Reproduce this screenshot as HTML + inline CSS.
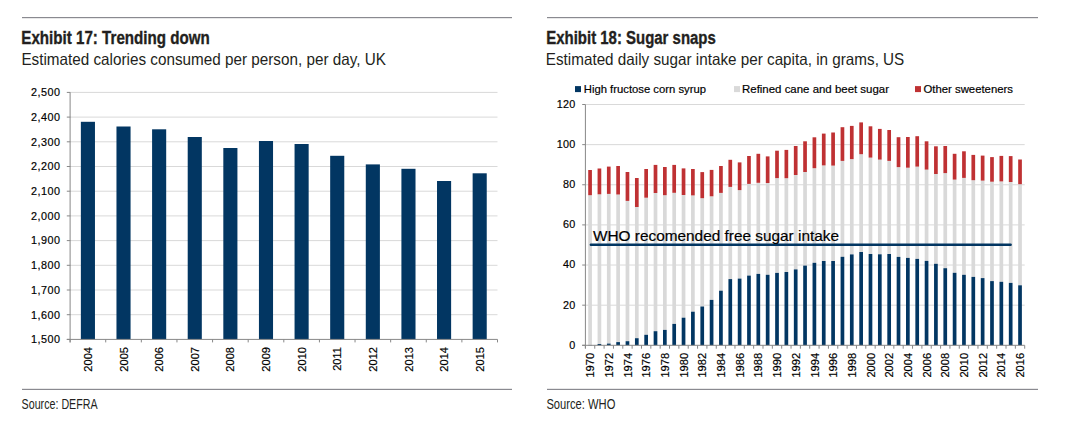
<!DOCTYPE html>
<html><head><meta charset="utf-8"><style>
html,body{margin:0;padding:0;background:#fff;width:1067px;height:427px;overflow:hidden}
svg{display:block;font-family:"Liberation Sans", sans-serif}
text.s{stroke:#000;stroke-width:0.18px}
</style></head><body>
<svg width="1067" height="427" viewBox="0 0 1067 427">
<rect x="22" y="17.0" width="490" height="1.2" fill="#8a8a90"/>
<rect x="22" y="388.8" width="490" height="1.2" fill="#8a8a90"/>
<rect x="547" y="17.0" width="491" height="1.2" fill="#8a8a90"/>
<rect x="547" y="388.8" width="491" height="1.2" fill="#8a8a90"/>
<text x="21.3" y="43.7" font-weight="bold" font-size="17.5" textLength="188.5" lengthAdjust="spacingAndGlyphs" fill="#231f20" stroke="#231f20" stroke-width="0.35">Exhibit 17: Trending down</text>
<text x="546.3" y="43.7" font-weight="bold" font-size="17.5" textLength="169.5" lengthAdjust="spacingAndGlyphs" fill="#231f20" stroke="#231f20" stroke-width="0.35">Exhibit 18: Sugar snaps</text>
<text x="21.4" y="65" font-size="16.5" textLength="364.5" lengthAdjust="spacingAndGlyphs" fill="#231f20">Estimated calories consumed per person, per day, UK</text>
<text x="545.8" y="65" font-size="16.5" textLength="358.5" lengthAdjust="spacingAndGlyphs" fill="#231f20">Estimated daily sugar intake per capita, in grams, US</text>
<text x="21.6" y="408.7" font-size="14" textLength="76" lengthAdjust="spacingAndGlyphs" fill="#231f20">Source: DEFRA</text>
<text x="546.4" y="408.7" font-size="14" textLength="69" lengthAdjust="spacingAndGlyphs" fill="#231f20">Source: WHO</text>
<rect x="70.1" y="91.90" width="427.40" height="1" fill="#d9d9d9"/>
<rect x="66.8" y="91.90" width="3.5" height="1" fill="#888888"/>
<text x="60" y="96.20" class="s" font-size="10.8" text-anchor="end" textLength="28.93" lengthAdjust="spacing" fill="#000">2,500</text>
<rect x="70.1" y="116.60" width="427.40" height="1" fill="#d9d9d9"/>
<rect x="66.8" y="116.60" width="3.5" height="1" fill="#888888"/>
<text x="60" y="120.90" class="s" font-size="10.8" text-anchor="end" textLength="28.93" lengthAdjust="spacing" fill="#000">2,400</text>
<rect x="70.1" y="141.30" width="427.40" height="1" fill="#d9d9d9"/>
<rect x="66.8" y="141.30" width="3.5" height="1" fill="#888888"/>
<text x="60" y="145.60" class="s" font-size="10.8" text-anchor="end" textLength="28.93" lengthAdjust="spacing" fill="#000">2,300</text>
<rect x="70.1" y="166.00" width="427.40" height="1" fill="#d9d9d9"/>
<rect x="66.8" y="166.00" width="3.5" height="1" fill="#888888"/>
<text x="60" y="170.30" class="s" font-size="10.8" text-anchor="end" textLength="28.93" lengthAdjust="spacing" fill="#000">2,200</text>
<rect x="70.1" y="190.70" width="427.40" height="1" fill="#d9d9d9"/>
<rect x="66.8" y="190.70" width="3.5" height="1" fill="#888888"/>
<text x="60" y="195.00" class="s" font-size="10.8" text-anchor="end" textLength="28.93" lengthAdjust="spacing" fill="#000">2,100</text>
<rect x="70.1" y="215.40" width="427.40" height="1" fill="#d9d9d9"/>
<rect x="66.8" y="215.40" width="3.5" height="1" fill="#888888"/>
<text x="60" y="219.70" class="s" font-size="10.8" text-anchor="end" textLength="28.93" lengthAdjust="spacing" fill="#000">2,000</text>
<rect x="70.1" y="240.10" width="427.40" height="1" fill="#d9d9d9"/>
<rect x="66.8" y="240.10" width="3.5" height="1" fill="#888888"/>
<text x="60" y="244.40" class="s" font-size="10.8" text-anchor="end" textLength="28.93" lengthAdjust="spacing" fill="#000">1,900</text>
<rect x="70.1" y="264.80" width="427.40" height="1" fill="#d9d9d9"/>
<rect x="66.8" y="264.80" width="3.5" height="1" fill="#888888"/>
<text x="60" y="269.10" class="s" font-size="10.8" text-anchor="end" textLength="28.93" lengthAdjust="spacing" fill="#000">1,800</text>
<rect x="70.1" y="289.50" width="427.40" height="1" fill="#d9d9d9"/>
<rect x="66.8" y="289.50" width="3.5" height="1" fill="#888888"/>
<text x="60" y="293.80" class="s" font-size="10.8" text-anchor="end" textLength="28.93" lengthAdjust="spacing" fill="#000">1,700</text>
<rect x="70.1" y="314.20" width="427.40" height="1" fill="#d9d9d9"/>
<rect x="66.8" y="314.20" width="3.5" height="1" fill="#888888"/>
<text x="60" y="318.50" class="s" font-size="10.8" text-anchor="end" textLength="28.93" lengthAdjust="spacing" fill="#000">1,600</text>
<rect x="66.8" y="338.90" width="3.5" height="1" fill="#888888"/>
<text x="60" y="343.20" class="s" font-size="10.8" text-anchor="end" textLength="28.93" lengthAdjust="spacing" fill="#000">1,500</text>
<rect x="80.86" y="121.8" width="14.1" height="217.60" fill="#023662"/>
<rect x="116.47" y="126.5" width="14.1" height="212.90" fill="#023662"/>
<rect x="152.09" y="129.3" width="14.1" height="210.10" fill="#023662"/>
<rect x="187.71" y="137" width="14.1" height="202.40" fill="#023662"/>
<rect x="223.32" y="148" width="14.1" height="191.40" fill="#023662"/>
<rect x="258.94" y="141" width="14.1" height="198.40" fill="#023662"/>
<rect x="294.56" y="144" width="14.1" height="195.40" fill="#023662"/>
<rect x="330.17" y="155.8" width="14.1" height="183.60" fill="#023662"/>
<rect x="365.79" y="164.4" width="14.1" height="175.00" fill="#023662"/>
<rect x="401.41" y="168.8" width="14.1" height="170.60" fill="#023662"/>
<rect x="437.02" y="181" width="14.1" height="158.40" fill="#023662"/>
<rect x="472.64" y="173.3" width="14.1" height="166.10" fill="#023662"/>
<rect x="69.6" y="92.4" width="1" height="250.00" fill="#888888"/>
<rect x="66.8" y="338.90" width="430.70" height="1" fill="#888888"/>
<rect x="69.60" y="339.4" width="1" height="3" fill="#888888"/>
<rect x="105.22" y="339.4" width="1" height="3" fill="#888888"/>
<rect x="140.83" y="339.4" width="1" height="3" fill="#888888"/>
<rect x="176.45" y="339.4" width="1" height="3" fill="#888888"/>
<rect x="212.07" y="339.4" width="1" height="3" fill="#888888"/>
<rect x="247.68" y="339.4" width="1" height="3" fill="#888888"/>
<rect x="283.30" y="339.4" width="1" height="3" fill="#888888"/>
<rect x="318.92" y="339.4" width="1" height="3" fill="#888888"/>
<rect x="354.53" y="339.4" width="1" height="3" fill="#888888"/>
<rect x="390.15" y="339.4" width="1" height="3" fill="#888888"/>
<rect x="425.77" y="339.4" width="1" height="3" fill="#888888"/>
<rect x="461.38" y="339.4" width="1" height="3" fill="#888888"/>
<rect x="497.00" y="339.4" width="1" height="3" fill="#888888"/>
<text transform="translate(92.01,347.0) rotate(-90)" class="s" font-size="11.1" text-anchor="end" fill="#000">2004</text>
<text transform="translate(127.62,347.0) rotate(-90)" class="s" font-size="11.1" text-anchor="end" fill="#000">2005</text>
<text transform="translate(163.24,347.0) rotate(-90)" class="s" font-size="11.1" text-anchor="end" fill="#000">2006</text>
<text transform="translate(198.86,347.0) rotate(-90)" class="s" font-size="11.1" text-anchor="end" fill="#000">2007</text>
<text transform="translate(234.47,347.0) rotate(-90)" class="s" font-size="11.1" text-anchor="end" fill="#000">2008</text>
<text transform="translate(270.09,347.0) rotate(-90)" class="s" font-size="11.1" text-anchor="end" fill="#000">2009</text>
<text transform="translate(305.71,347.0) rotate(-90)" class="s" font-size="11.1" text-anchor="end" fill="#000">2010</text>
<text transform="translate(341.33,347.0) rotate(-90)" class="s" font-size="11.1" text-anchor="end" fill="#000">2011</text>
<text transform="translate(376.94,347.0) rotate(-90)" class="s" font-size="11.1" text-anchor="end" fill="#000">2012</text>
<text transform="translate(412.56,347.0) rotate(-90)" class="s" font-size="11.1" text-anchor="end" fill="#000">2013</text>
<text transform="translate(448.18,347.0) rotate(-90)" class="s" font-size="11.1" text-anchor="end" fill="#000">2014</text>
<text transform="translate(483.79,347.0) rotate(-90)" class="s" font-size="11.1" text-anchor="end" fill="#000">2015</text>
<rect x="582.2" y="344.80" width="3.2" height="1" fill="#888888"/>
<text x="575.3" y="348.70" class="s" font-size="10.8" text-anchor="end" textLength="6.01" lengthAdjust="spacing" fill="#000">0</text>
<rect x="585.4" y="304.67" width="439.30" height="1" fill="#d9d9d9"/>
<rect x="582.2" y="304.67" width="3.2" height="1" fill="#888888"/>
<text x="575.3" y="308.57" class="s" font-size="10.8" text-anchor="end" textLength="12.31" lengthAdjust="spacing" fill="#000">20</text>
<rect x="585.4" y="264.53" width="439.30" height="1" fill="#d9d9d9"/>
<rect x="582.2" y="264.53" width="3.2" height="1" fill="#888888"/>
<text x="575.3" y="268.43" class="s" font-size="10.8" text-anchor="end" textLength="12.31" lengthAdjust="spacing" fill="#000">40</text>
<rect x="585.4" y="224.40" width="439.30" height="1" fill="#d9d9d9"/>
<rect x="582.2" y="224.40" width="3.2" height="1" fill="#888888"/>
<text x="575.3" y="228.30" class="s" font-size="10.8" text-anchor="end" textLength="12.31" lengthAdjust="spacing" fill="#000">60</text>
<rect x="585.4" y="184.26" width="439.30" height="1" fill="#d9d9d9"/>
<rect x="582.2" y="184.26" width="3.2" height="1" fill="#888888"/>
<text x="575.3" y="188.16" class="s" font-size="10.8" text-anchor="end" textLength="12.31" lengthAdjust="spacing" fill="#000">80</text>
<rect x="585.4" y="144.13" width="439.30" height="1" fill="#d9d9d9"/>
<rect x="582.2" y="144.13" width="3.2" height="1" fill="#888888"/>
<text x="575.3" y="148.03" class="s" font-size="10.8" text-anchor="end" textLength="18.62" lengthAdjust="spacing" fill="#000">100</text>
<rect x="585.4" y="104.00" width="439.30" height="1" fill="#d9d9d9"/>
<rect x="582.2" y="104.00" width="3.2" height="1" fill="#888888"/>
<text x="575.3" y="107.90" class="s" font-size="10.8" text-anchor="end" textLength="18.62" lengthAdjust="spacing" fill="#000">120</text>
<rect x="588.22" y="195.2" width="3.7" height="149.80" fill="#d9d9d9"/>
<rect x="588.22" y="170" width="3.7" height="25.20" fill="#bf3133"/>
<rect x="588.22" y="345" width="3.7" height="0.30" fill="#023662"/>
<rect x="597.57" y="194.3" width="3.7" height="149.70" fill="#d9d9d9"/>
<rect x="597.57" y="168.5" width="3.7" height="25.80" fill="#bf3133"/>
<rect x="597.57" y="344" width="3.7" height="1.30" fill="#023662"/>
<rect x="606.92" y="193.9" width="3.7" height="149.70" fill="#d9d9d9"/>
<rect x="606.92" y="166.6" width="3.7" height="27.30" fill="#bf3133"/>
<rect x="606.92" y="343.6" width="3.7" height="1.70" fill="#023662"/>
<rect x="616.26" y="194.5" width="3.7" height="147.60" fill="#d9d9d9"/>
<rect x="616.26" y="166" width="3.7" height="28.50" fill="#bf3133"/>
<rect x="616.26" y="342.1" width="3.7" height="3.20" fill="#023662"/>
<rect x="625.61" y="200.9" width="3.7" height="140.30" fill="#d9d9d9"/>
<rect x="625.61" y="172" width="3.7" height="28.90" fill="#bf3133"/>
<rect x="625.61" y="341.2" width="3.7" height="4.10" fill="#023662"/>
<rect x="634.96" y="207" width="3.7" height="131.20" fill="#d9d9d9"/>
<rect x="634.96" y="178" width="3.7" height="29.00" fill="#bf3133"/>
<rect x="634.96" y="338.2" width="3.7" height="7.10" fill="#023662"/>
<rect x="644.30" y="197.7" width="3.7" height="137.10" fill="#d9d9d9"/>
<rect x="644.30" y="169" width="3.7" height="28.70" fill="#bf3133"/>
<rect x="644.30" y="334.8" width="3.7" height="10.50" fill="#023662"/>
<rect x="653.65" y="193" width="3.7" height="138.20" fill="#d9d9d9"/>
<rect x="653.65" y="164.9" width="3.7" height="28.10" fill="#bf3133"/>
<rect x="653.65" y="331.2" width="3.7" height="14.10" fill="#023662"/>
<rect x="663.00" y="195.2" width="3.7" height="134.70" fill="#d9d9d9"/>
<rect x="663.00" y="167" width="3.7" height="28.20" fill="#bf3133"/>
<rect x="663.00" y="329.9" width="3.7" height="15.40" fill="#023662"/>
<rect x="672.34" y="192.8" width="3.7" height="131.10" fill="#d9d9d9"/>
<rect x="672.34" y="164.9" width="3.7" height="27.90" fill="#bf3133"/>
<rect x="672.34" y="323.9" width="3.7" height="21.40" fill="#023662"/>
<rect x="681.69" y="195" width="3.7" height="122.70" fill="#d9d9d9"/>
<rect x="681.69" y="168.4" width="3.7" height="26.60" fill="#bf3133"/>
<rect x="681.69" y="317.7" width="3.7" height="27.60" fill="#023662"/>
<rect x="691.04" y="195.4" width="3.7" height="116.30" fill="#d9d9d9"/>
<rect x="691.04" y="169" width="3.7" height="26.40" fill="#bf3133"/>
<rect x="691.04" y="311.7" width="3.7" height="33.60" fill="#023662"/>
<rect x="700.39" y="198.2" width="3.7" height="108.30" fill="#d9d9d9"/>
<rect x="700.39" y="172.1" width="3.7" height="26.10" fill="#bf3133"/>
<rect x="700.39" y="306.5" width="3.7" height="38.80" fill="#023662"/>
<rect x="709.73" y="196.3" width="3.7" height="103.60" fill="#d9d9d9"/>
<rect x="709.73" y="169.9" width="3.7" height="26.40" fill="#bf3133"/>
<rect x="709.73" y="299.9" width="3.7" height="45.40" fill="#023662"/>
<rect x="719.08" y="192.9" width="3.7" height="97.80" fill="#d9d9d9"/>
<rect x="719.08" y="166" width="3.7" height="26.90" fill="#bf3133"/>
<rect x="719.08" y="290.7" width="3.7" height="54.60" fill="#023662"/>
<rect x="728.43" y="186.9" width="3.7" height="92.20" fill="#d9d9d9"/>
<rect x="728.43" y="159.8" width="3.7" height="27.10" fill="#bf3133"/>
<rect x="728.43" y="279.1" width="3.7" height="66.20" fill="#023662"/>
<rect x="737.77" y="190.1" width="3.7" height="88.50" fill="#d9d9d9"/>
<rect x="737.77" y="162.4" width="3.7" height="27.70" fill="#bf3133"/>
<rect x="737.77" y="278.6" width="3.7" height="66.70" fill="#023662"/>
<rect x="747.12" y="183.9" width="3.7" height="91.70" fill="#d9d9d9"/>
<rect x="747.12" y="156" width="3.7" height="27.90" fill="#bf3133"/>
<rect x="747.12" y="275.6" width="3.7" height="69.70" fill="#023662"/>
<rect x="756.47" y="182.8" width="3.7" height="91.10" fill="#d9d9d9"/>
<rect x="756.47" y="153.8" width="3.7" height="29.00" fill="#bf3133"/>
<rect x="756.47" y="273.9" width="3.7" height="71.40" fill="#023662"/>
<rect x="765.81" y="183" width="3.7" height="91.80" fill="#d9d9d9"/>
<rect x="765.81" y="156.4" width="3.7" height="26.60" fill="#bf3133"/>
<rect x="765.81" y="274.8" width="3.7" height="70.50" fill="#023662"/>
<rect x="775.16" y="178.1" width="3.7" height="94.80" fill="#d9d9d9"/>
<rect x="775.16" y="150.7" width="3.7" height="27.40" fill="#bf3133"/>
<rect x="775.16" y="272.9" width="3.7" height="72.40" fill="#023662"/>
<rect x="784.51" y="178.2" width="3.7" height="93.80" fill="#d9d9d9"/>
<rect x="784.51" y="149.9" width="3.7" height="28.30" fill="#bf3133"/>
<rect x="784.51" y="272" width="3.7" height="73.30" fill="#023662"/>
<rect x="793.85" y="175" width="3.7" height="94.40" fill="#d9d9d9"/>
<rect x="793.85" y="146" width="3.7" height="29.00" fill="#bf3133"/>
<rect x="793.85" y="269.4" width="3.7" height="75.90" fill="#023662"/>
<rect x="803.20" y="172" width="3.7" height="93.60" fill="#d9d9d9"/>
<rect x="803.20" y="141.3" width="3.7" height="30.70" fill="#bf3133"/>
<rect x="803.20" y="265.6" width="3.7" height="79.70" fill="#023662"/>
<rect x="812.55" y="168.2" width="3.7" height="94.60" fill="#d9d9d9"/>
<rect x="812.55" y="137.3" width="3.7" height="30.90" fill="#bf3133"/>
<rect x="812.55" y="262.8" width="3.7" height="82.50" fill="#023662"/>
<rect x="821.89" y="165.4" width="3.7" height="95.60" fill="#d9d9d9"/>
<rect x="821.89" y="133.6" width="3.7" height="31.80" fill="#bf3133"/>
<rect x="821.89" y="261" width="3.7" height="84.30" fill="#023662"/>
<rect x="831.24" y="165.6" width="3.7" height="95.40" fill="#d9d9d9"/>
<rect x="831.24" y="132.5" width="3.7" height="33.10" fill="#bf3133"/>
<rect x="831.24" y="261" width="3.7" height="84.30" fill="#023662"/>
<rect x="840.59" y="160.9" width="3.7" height="95.90" fill="#d9d9d9"/>
<rect x="840.59" y="127.2" width="3.7" height="33.70" fill="#bf3133"/>
<rect x="840.59" y="256.8" width="3.7" height="88.50" fill="#023662"/>
<rect x="849.93" y="159.1" width="3.7" height="95.30" fill="#d9d9d9"/>
<rect x="849.93" y="125.9" width="3.7" height="33.20" fill="#bf3133"/>
<rect x="849.93" y="254.4" width="3.7" height="90.90" fill="#023662"/>
<rect x="859.28" y="154.2" width="3.7" height="97.80" fill="#d9d9d9"/>
<rect x="859.28" y="122.4" width="3.7" height="31.80" fill="#bf3133"/>
<rect x="859.28" y="252" width="3.7" height="93.30" fill="#023662"/>
<rect x="868.63" y="157.6" width="3.7" height="96.40" fill="#d9d9d9"/>
<rect x="868.63" y="126.3" width="3.7" height="31.30" fill="#bf3133"/>
<rect x="868.63" y="254" width="3.7" height="91.30" fill="#023662"/>
<rect x="877.97" y="159.6" width="3.7" height="94.70" fill="#d9d9d9"/>
<rect x="877.97" y="128.9" width="3.7" height="30.70" fill="#bf3133"/>
<rect x="877.97" y="254.3" width="3.7" height="91.00" fill="#023662"/>
<rect x="887.32" y="160.9" width="3.7" height="93.10" fill="#d9d9d9"/>
<rect x="887.32" y="130" width="3.7" height="30.90" fill="#bf3133"/>
<rect x="887.32" y="254" width="3.7" height="91.30" fill="#023662"/>
<rect x="896.67" y="167.1" width="3.7" height="89.80" fill="#d9d9d9"/>
<rect x="896.67" y="137.2" width="3.7" height="29.90" fill="#bf3133"/>
<rect x="896.67" y="256.9" width="3.7" height="88.40" fill="#023662"/>
<rect x="906.01" y="167.7" width="3.7" height="90.20" fill="#d9d9d9"/>
<rect x="906.01" y="137" width="3.7" height="30.70" fill="#bf3133"/>
<rect x="906.01" y="257.9" width="3.7" height="87.40" fill="#023662"/>
<rect x="915.36" y="166.6" width="3.7" height="92.30" fill="#d9d9d9"/>
<rect x="915.36" y="136.2" width="3.7" height="30.40" fill="#bf3133"/>
<rect x="915.36" y="258.9" width="3.7" height="86.40" fill="#023662"/>
<rect x="924.71" y="169.6" width="3.7" height="91.30" fill="#d9d9d9"/>
<rect x="924.71" y="141.3" width="3.7" height="28.30" fill="#bf3133"/>
<rect x="924.71" y="260.9" width="3.7" height="84.40" fill="#023662"/>
<rect x="934.06" y="174" width="3.7" height="89.80" fill="#d9d9d9"/>
<rect x="934.06" y="146.3" width="3.7" height="27.70" fill="#bf3133"/>
<rect x="934.06" y="263.8" width="3.7" height="81.50" fill="#023662"/>
<rect x="943.40" y="173.1" width="3.7" height="95.10" fill="#d9d9d9"/>
<rect x="943.40" y="146" width="3.7" height="27.10" fill="#bf3133"/>
<rect x="943.40" y="268.2" width="3.7" height="77.10" fill="#023662"/>
<rect x="952.75" y="179.6" width="3.7" height="93.20" fill="#d9d9d9"/>
<rect x="952.75" y="153.8" width="3.7" height="25.80" fill="#bf3133"/>
<rect x="952.75" y="272.8" width="3.7" height="72.50" fill="#023662"/>
<rect x="962.10" y="177.9" width="3.7" height="96.90" fill="#d9d9d9"/>
<rect x="962.10" y="151.3" width="3.7" height="26.60" fill="#bf3133"/>
<rect x="962.10" y="274.8" width="3.7" height="70.50" fill="#023662"/>
<rect x="971.44" y="180.2" width="3.7" height="96.70" fill="#d9d9d9"/>
<rect x="971.44" y="154.9" width="3.7" height="25.30" fill="#bf3133"/>
<rect x="971.44" y="276.9" width="3.7" height="68.40" fill="#023662"/>
<rect x="980.79" y="180.6" width="3.7" height="97.50" fill="#d9d9d9"/>
<rect x="980.79" y="155.6" width="3.7" height="25.00" fill="#bf3133"/>
<rect x="980.79" y="278.1" width="3.7" height="67.20" fill="#023662"/>
<rect x="990.14" y="181.7" width="3.7" height="99.40" fill="#d9d9d9"/>
<rect x="990.14" y="157.1" width="3.7" height="24.60" fill="#bf3133"/>
<rect x="990.14" y="281.1" width="3.7" height="64.20" fill="#023662"/>
<rect x="999.48" y="181.4" width="3.7" height="100.40" fill="#d9d9d9"/>
<rect x="999.48" y="155.9" width="3.7" height="25.50" fill="#bf3133"/>
<rect x="999.48" y="281.8" width="3.7" height="63.50" fill="#023662"/>
<rect x="1008.83" y="182" width="3.7" height="100.90" fill="#d9d9d9"/>
<rect x="1008.83" y="156.1" width="3.7" height="25.90" fill="#bf3133"/>
<rect x="1008.83" y="282.9" width="3.7" height="62.40" fill="#023662"/>
<rect x="1018.18" y="184.2" width="3.7" height="101.10" fill="#d9d9d9"/>
<rect x="1018.18" y="159.5" width="3.7" height="24.70" fill="#bf3133"/>
<rect x="1018.18" y="285.3" width="3.7" height="60.00" fill="#023662"/>
<rect x="584.9" y="104.49600000000001" width="1" height="243.80" fill="#888888"/>
<rect x="582.2" y="344.80" width="442.50" height="1" fill="#888888"/>
<rect x="584.90" y="345.3" width="1" height="3.4" fill="#888888"/>
<rect x="594.25" y="345.3" width="1" height="3.4" fill="#888888"/>
<rect x="603.59" y="345.3" width="1" height="3.4" fill="#888888"/>
<rect x="612.94" y="345.3" width="1" height="3.4" fill="#888888"/>
<rect x="622.29" y="345.3" width="1" height="3.4" fill="#888888"/>
<rect x="631.63" y="345.3" width="1" height="3.4" fill="#888888"/>
<rect x="640.98" y="345.3" width="1" height="3.4" fill="#888888"/>
<rect x="650.33" y="345.3" width="1" height="3.4" fill="#888888"/>
<rect x="659.67" y="345.3" width="1" height="3.4" fill="#888888"/>
<rect x="669.02" y="345.3" width="1" height="3.4" fill="#888888"/>
<rect x="678.37" y="345.3" width="1" height="3.4" fill="#888888"/>
<rect x="687.71" y="345.3" width="1" height="3.4" fill="#888888"/>
<rect x="697.06" y="345.3" width="1" height="3.4" fill="#888888"/>
<rect x="706.41" y="345.3" width="1" height="3.4" fill="#888888"/>
<rect x="715.76" y="345.3" width="1" height="3.4" fill="#888888"/>
<rect x="725.10" y="345.3" width="1" height="3.4" fill="#888888"/>
<rect x="734.45" y="345.3" width="1" height="3.4" fill="#888888"/>
<rect x="743.80" y="345.3" width="1" height="3.4" fill="#888888"/>
<rect x="753.14" y="345.3" width="1" height="3.4" fill="#888888"/>
<rect x="762.49" y="345.3" width="1" height="3.4" fill="#888888"/>
<rect x="771.84" y="345.3" width="1" height="3.4" fill="#888888"/>
<rect x="781.18" y="345.3" width="1" height="3.4" fill="#888888"/>
<rect x="790.53" y="345.3" width="1" height="3.4" fill="#888888"/>
<rect x="799.88" y="345.3" width="1" height="3.4" fill="#888888"/>
<rect x="809.22" y="345.3" width="1" height="3.4" fill="#888888"/>
<rect x="818.57" y="345.3" width="1" height="3.4" fill="#888888"/>
<rect x="827.92" y="345.3" width="1" height="3.4" fill="#888888"/>
<rect x="837.26" y="345.3" width="1" height="3.4" fill="#888888"/>
<rect x="846.61" y="345.3" width="1" height="3.4" fill="#888888"/>
<rect x="855.96" y="345.3" width="1" height="3.4" fill="#888888"/>
<rect x="865.30" y="345.3" width="1" height="3.4" fill="#888888"/>
<rect x="874.65" y="345.3" width="1" height="3.4" fill="#888888"/>
<rect x="884.00" y="345.3" width="1" height="3.4" fill="#888888"/>
<rect x="893.34" y="345.3" width="1" height="3.4" fill="#888888"/>
<rect x="902.69" y="345.3" width="1" height="3.4" fill="#888888"/>
<rect x="912.04" y="345.3" width="1" height="3.4" fill="#888888"/>
<rect x="921.39" y="345.3" width="1" height="3.4" fill="#888888"/>
<rect x="930.73" y="345.3" width="1" height="3.4" fill="#888888"/>
<rect x="940.08" y="345.3" width="1" height="3.4" fill="#888888"/>
<rect x="949.43" y="345.3" width="1" height="3.4" fill="#888888"/>
<rect x="958.77" y="345.3" width="1" height="3.4" fill="#888888"/>
<rect x="968.12" y="345.3" width="1" height="3.4" fill="#888888"/>
<rect x="977.47" y="345.3" width="1" height="3.4" fill="#888888"/>
<rect x="986.81" y="345.3" width="1" height="3.4" fill="#888888"/>
<rect x="996.16" y="345.3" width="1" height="3.4" fill="#888888"/>
<rect x="1005.51" y="345.3" width="1" height="3.4" fill="#888888"/>
<rect x="1014.85" y="345.3" width="1" height="3.4" fill="#888888"/>
<rect x="1024.20" y="345.3" width="1" height="3.4" fill="#888888"/>
<text transform="translate(594.17,352.9) rotate(-90)" class="s" font-size="11.1" text-anchor="end" fill="#000">1970</text>
<text transform="translate(612.87,352.9) rotate(-90)" class="s" font-size="11.1" text-anchor="end" fill="#000">1972</text>
<text transform="translate(631.56,352.9) rotate(-90)" class="s" font-size="11.1" text-anchor="end" fill="#000">1974</text>
<text transform="translate(650.25,352.9) rotate(-90)" class="s" font-size="11.1" text-anchor="end" fill="#000">1976</text>
<text transform="translate(668.95,352.9) rotate(-90)" class="s" font-size="11.1" text-anchor="end" fill="#000">1978</text>
<text transform="translate(687.64,352.9) rotate(-90)" class="s" font-size="11.1" text-anchor="end" fill="#000">1980</text>
<text transform="translate(706.34,352.9) rotate(-90)" class="s" font-size="11.1" text-anchor="end" fill="#000">1982</text>
<text transform="translate(725.03,352.9) rotate(-90)" class="s" font-size="11.1" text-anchor="end" fill="#000">1984</text>
<text transform="translate(743.72,352.9) rotate(-90)" class="s" font-size="11.1" text-anchor="end" fill="#000">1986</text>
<text transform="translate(762.42,352.9) rotate(-90)" class="s" font-size="11.1" text-anchor="end" fill="#000">1988</text>
<text transform="translate(781.11,352.9) rotate(-90)" class="s" font-size="11.1" text-anchor="end" fill="#000">1990</text>
<text transform="translate(799.80,352.9) rotate(-90)" class="s" font-size="11.1" text-anchor="end" fill="#000">1992</text>
<text transform="translate(818.50,352.9) rotate(-90)" class="s" font-size="11.1" text-anchor="end" fill="#000">1994</text>
<text transform="translate(837.19,352.9) rotate(-90)" class="s" font-size="11.1" text-anchor="end" fill="#000">1996</text>
<text transform="translate(855.88,352.9) rotate(-90)" class="s" font-size="11.1" text-anchor="end" fill="#000">1998</text>
<text transform="translate(874.58,352.9) rotate(-90)" class="s" font-size="11.1" text-anchor="end" fill="#000">2000</text>
<text transform="translate(893.27,352.9) rotate(-90)" class="s" font-size="11.1" text-anchor="end" fill="#000">2002</text>
<text transform="translate(911.96,352.9) rotate(-90)" class="s" font-size="11.1" text-anchor="end" fill="#000">2004</text>
<text transform="translate(930.66,352.9) rotate(-90)" class="s" font-size="11.1" text-anchor="end" fill="#000">2006</text>
<text transform="translate(949.35,352.9) rotate(-90)" class="s" font-size="11.1" text-anchor="end" fill="#000">2008</text>
<text transform="translate(968.05,352.9) rotate(-90)" class="s" font-size="11.1" text-anchor="end" fill="#000">2010</text>
<text transform="translate(986.74,352.9) rotate(-90)" class="s" font-size="11.1" text-anchor="end" fill="#000">2012</text>
<text transform="translate(1005.43,352.9) rotate(-90)" class="s" font-size="11.1" text-anchor="end" fill="#000">2014</text>
<text transform="translate(1024.13,352.9) rotate(-90)" class="s" font-size="11.1" text-anchor="end" fill="#000">2016</text>
<line x1="590.9" y1="244.75" x2="1010.6" y2="244.75" stroke="#023662" stroke-width="2.5" stroke-linecap="round"/>
<text x="593" y="240.6" class="s" font-size="15" textLength="246" lengthAdjust="spacingAndGlyphs" fill="#000">WHO recomended free sugar intake</text>
<rect x="575" y="86.1" width="6" height="6" fill="#023662"/>
<text x="583.8" y="92.6" class="s" font-size="11.2" textLength="122.2" lengthAdjust="spacingAndGlyphs" fill="#000">High fructose corn syrup</text>
<rect x="734" y="86.1" width="6" height="6" fill="#d9d9d9"/>
<text x="742" y="92.6" class="s" font-size="11.2" textLength="147" lengthAdjust="spacingAndGlyphs" fill="#000">Refined cane and beet sugar</text>
<rect x="915" y="86.1" width="6" height="6" fill="#bf3133"/>
<text x="923.5" y="92.6" class="s" font-size="11.2" textLength="89.5" lengthAdjust="spacingAndGlyphs" fill="#000">Other sweeteners</text>
</svg>
</body></html>
